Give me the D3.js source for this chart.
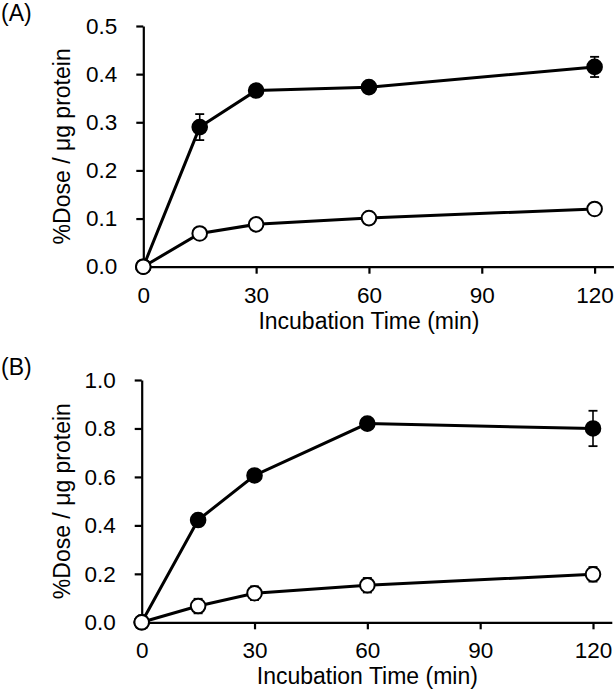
<!DOCTYPE html>
<html><head><meta charset="utf-8">
<script src="https://cdn.jsdelivr.net/npm/d3@7"></script>
<style>body{margin:0;background:#fff}svg{display:block}</style>
</head><body>
<svg id="c" width="615" height="692"></svg>
<script>
const times = [0, 15, 30, 60, 120];
const xTicks = [0, 30, 60, 90, 120];
const panelLabels = ["(A)", "(B)"];
const yTicksA = [0.0, 0.1, 0.2, 0.3, 0.4, 0.5];
const yTicksB = [0.0, 0.2, 0.4, 0.6, 0.8, 1.0];
const filledA = [0, 0.290, 0.366, 0.373, 0.415];
const filledAErr = [0, 0.027, 0.006, 0.006, 0.021];
const openA = [0, 0.069, 0.088, 0.101, 0.120];
const openAErr = [0, 0.004, 0.005, 0.005, 0.005];
const filledB = [0, 0.422, 0.606, 0.820, 0.800];
const filledBErr = [0, 0.010, 0.010, 0.010, 0.073];
const openB = [0, 0.067, 0.120, 0.153, 0.198];
const openBErr = [0, 0.030, 0.028, 0.030, 0.030];
const xTitle = "Incubation Time (min)";
const yTitle = "%Dose / μg protein";

const svg = d3.select("#c");
const font = "'Liberation Sans', Arial, sans-serif";

const panels = [
  {label: panelLabels[0], top: 26, bottom: 266.7, left: 143.3, ymax: 0.5, yTicks: yTicksA,
   series: [{v: filledA, e: filledAErr, fill: "#000"}, {v: openA, e: openAErr, fill: "#fff"}], labelY: 21},
  {label: panelLabels[1], top: 380, bottom: 622.3, left: 141.7, ymax: 1.0, yTicks: yTicksB,
   series: [{v: filledB, e: filledBErr, fill: "#000"}, {v: openB, e: openBErr, fill: "#fff"}], labelY: 375}
];

panels.forEach(p => {
  const x = d3.scaleLinear().domain([0, 125]).range([p.left, p.left + 125 * (451.3 / 120)]);
  const y = d3.scaleLinear().domain([0, p.ymax]).range([p.bottom, p.top]);
  const g = svg.append("g");

  const xa = g.append("g").attr("transform", `translate(0,${p.bottom})`)
    .call(d3.axisBottom(x).tickValues(xTicks).tickFormat(d3.format("d")).tickSize(7).tickSizeOuter(0).tickPadding(13));
  const ya = g.append("g").attr("transform", `translate(${p.left},0)`)
    .call(d3.axisLeft(y).tickValues(p.yTicks).tickFormat(d3.format(".1f")).tickSize(7).tickSizeOuter(0).tickPadding(19));
  [xa, ya].forEach(a => {
    a.select(".domain").attr("stroke", "#000").attr("stroke-width", 2.2);
    a.selectAll(".tick line").attr("stroke", "#000").attr("stroke-width", 2.2);
    a.selectAll("text").attr("font-family", font).attr("font-size", 22.5).attr("fill", "#000");
  });

  g.append("text").attr("x", (x(0) + x(120)) / 2).attr("y", p.bottom + 62)
    .attr("text-anchor", "middle").attr("font-family", font).attr("font-size", 23).text(xTitle);
  const cy = (p.top + p.bottom) / 2;
  g.append("text").attr("transform", `translate(70,${cy}) rotate(-90)`)
    .attr("text-anchor", "middle").attr("font-family", font).attr("font-size", 23).text(yTitle);
  g.append("text").attr("x", 1).attr("y", p.labelY).attr("font-family", font).attr("font-size", 23).text(p.label);

  const line = d3.line().x((d, i) => x(times[i])).y(d => y(d));
  p.series.forEach(s => {
    g.append("path").datum(s.v).attr("d", line).attr("fill", "none").attr("stroke", "#000").attr("stroke-width", 3);
  });
  p.series.forEach(s => {
    const eg = g.append("g");
    s.v.forEach((v, i) => {
      if (!s.e[i]) return;
      const xi = x(times[i]);
      eg.append("line").attr("x1", xi).attr("x2", xi).attr("y1", y(v - s.e[i])).attr("y2", y(v + s.e[i])).attr("stroke", "#000").attr("stroke-width", 1.6);
      [v - s.e[i], v + s.e[i]].forEach(t => eg.append("line").attr("x1", xi - 4.5).attr("x2", xi + 4.5).attr("y1", y(t)).attr("y2", y(t)).attr("stroke", "#000").attr("stroke-width", 1.8));
    });
    g.append("g").selectAll("circle").data(s.v).join("circle")
      .attr("cx", (d, i) => x(times[i])).attr("cy", d => y(d))
      .attr("r", 7.3).attr("fill", s.fill).attr("stroke", "#000").attr("stroke-width", 2);
  });
});
</script>
</body></html>
